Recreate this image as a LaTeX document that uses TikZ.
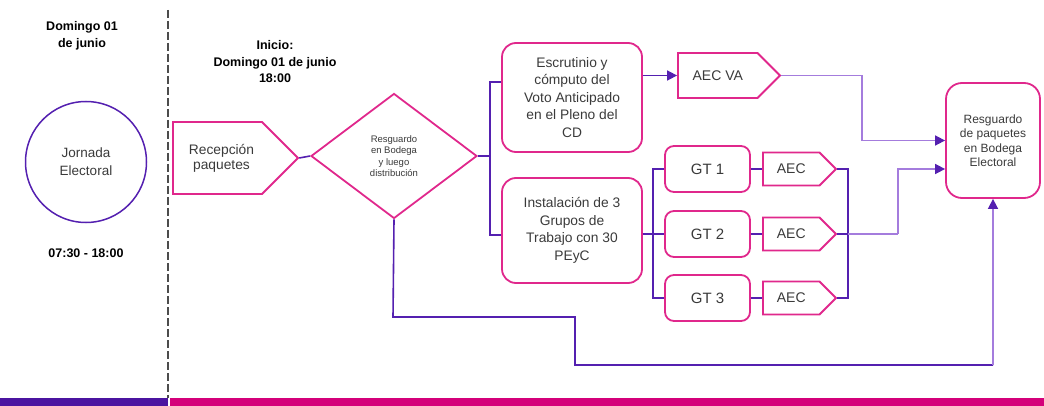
\documentclass[tikz,border=0pt]{standalone}
\usepackage{fontspec}
\setmainfont{Liberation Sans}
\usetikzlibrary{shapes.geometric,shapes.symbols,arrows.meta}
\definecolor{pk}{HTML}{E0288C}
\definecolor{pu}{HTML}{5420B0}
\definecolor{lpu}{HTML}{A47CDD}
\definecolor{barpu}{HTML}{4B14A0}
\definecolor{barpk}{HTML}{D4007A}
\definecolor{txt}{HTML}{3A3A3A}
\begin{document}
\begin{tikzpicture}[x=1pt,y=-1pt,
  box/.style={draw=pk,line width=1.8pt,rounded corners=14pt,align=center,text=txt,font=\fontsize{13.8}{17.5}\selectfont,inner sep=0pt},
  sig/.style={draw=pk,line width=1.8pt,signal,signal to=east,signal pointer angle=90,inner sep=0pt,text=txt,align=center},
  conn/.style={draw=pu,line width=1.6pt},
  lconn/.style={draw=lpu,line width=1.6pt},
  tip/.style={-{Triangle[length=10pt,width=10pt,color=pu]}},
  ttl/.style={font=\bfseries\fontsize{12.5}{16.5}\selectfont,align=center,text=black}
]
\useasboundingbox (0,0) rectangle (1044,406);
% separator and bottom bar
\draw[gray!60!black,line width=2pt,dash pattern=on 8pt off 3pt] (168,10) -- (168,398);
\fill[barpu] (0,398) rectangle (168,406);
\fill[barpk] (170,398) rectangle (1044,406);
% titles
\node[ttl] (t1) at (82,36) {Domingo 01\\de junio};
\node[ttl] (t2) at (275,62) {Inicio:\\Domingo 01 de junio\\18:00};
\node[ttl] (t3) at (86,253) {07:30 - 18:00};
% nodes
\node[circle,draw=pu,line width=1.5pt,minimum size=121,inner sep=0pt,align=center,text=txt,font=\fontsize{13.5}{18}\selectfont] (jor) at (86,162) {Jornada\\Electoral};
\node[sig,minimum width=125,minimum height=72,font=\fontsize{13.8}{15}\selectfont] (rec) at (217.5,158) {\hspace*{8pt}Recepción\\\hspace*{8pt}paquetes};
\node[diamond,draw=pk,line width=1.8pt,minimum width=166,minimum height=125,inner sep=0pt,align=center,text=txt,font=\fontsize{9.5}{11.5}\selectfont] (dia) at (394,156) {Resguardo\\en Bodega\\y luego\\distribución};
\node[box,minimum width=140,minimum height=109] (esc) at (572,97.5) {Escrutinio y\\cómputo del\\Voto Anticipado\\en el Pleno del\\CD};
\node[box,minimum width=140,minimum height=105] (inst) at (572,230.5) {Instalación de 3\\Grupos de\\Trabajo con 30\\PEyC};
\node[sig,minimum width=102,minimum height=45,font=\fontsize{14}{16}\selectfont] (aecva) at (717.75,75.5) {AEC VA};
\node[box,rounded corners=9pt,minimum width=85,minimum height=46,font=\fontsize{15}{16}\selectfont] (gt1) at (707.5,169) {GT 1};
\node[box,rounded corners=9pt,minimum width=85,minimum height=46,font=\fontsize{15}{16}\selectfont] (gt2) at (707.5,234) {GT 2};
\node[box,rounded corners=9pt,minimum width=85,minimum height=46,font=\fontsize{15}{16}\selectfont] (gt3) at (707.5,298) {GT 3};
\node[sig,minimum width=73,minimum height=33,font=\fontsize{14}{16}\selectfont] (aec1) at (791.25,169) {AEC};
\node[sig,minimum width=73,minimum height=33,font=\fontsize{14}{16}\selectfont] (aec2) at (791.25,234) {AEC};
\node[sig,minimum width=73,minimum height=33,font=\fontsize{14}{16}\selectfont] (aec3) at (791.25,298) {AEC};
\node[box,rounded corners=16pt,minimum width=94,minimum height=115,font=\fontsize{12}{14.5}\selectfont] (res) at (993,140.5) {Resguardo\\de paquetes\\en Bodega\\Electoral};
% connectors
\coordinate (b1) at (490,82);
\coordinate (b2) at (490,235);
\draw[conn] (rec.east) -- (dia.west);
\draw[conn] (dia.east) -- (dia.east -| b1);
\draw[conn] (esc.west |- b1) -- (b1) -- (b2) -- (inst.west |- b2);
\draw[conn,tip] (esc.east |- aecva.west) -- (aecva.west);
\coordinate (c1) at (862,75.5);
\draw[lconn,tip] (aecva.east) -- (c1) |- (res.west);
\coordinate (g) at (653,0);
\draw[conn] (inst.east |- gt2.west) -- (gt2.west);
\draw[conn] (gt1.west) -- (gt1.west -| g) -- (gt3.west -| g) -- (gt3.west);
\draw[conn] (gt1.east) -- (aec1.west);
\draw[conn] (gt2.east) -- (aec2.west);
\draw[conn] (gt3.east) -- (aec3.west);
\coordinate (h) at (848,0);
\draw[conn] (aec1.east) -- (aec1.east -| h) -- (aec3.east -| h) -- (aec3.east);
\draw[conn] (aec2.east) -- (aec2.east -| h);
\coordinate (c2) at (898,234);
\draw[lconn] (aec2.east -| h) -- (c2);
\draw[lconn,tip] (c2) |- ([yshift=-28.5pt]res.west);
\coordinate (d1) at (393,317);
\coordinate (d2) at (575,365);
\draw[conn] (dia.south) -- (d1) -- (d1 -| d2) -- (d2) -- (d2 -| res.south);
\draw[lconn,tip] (d2 -| res.south) -- (res.south);
\end{tikzpicture}
\end{document}
